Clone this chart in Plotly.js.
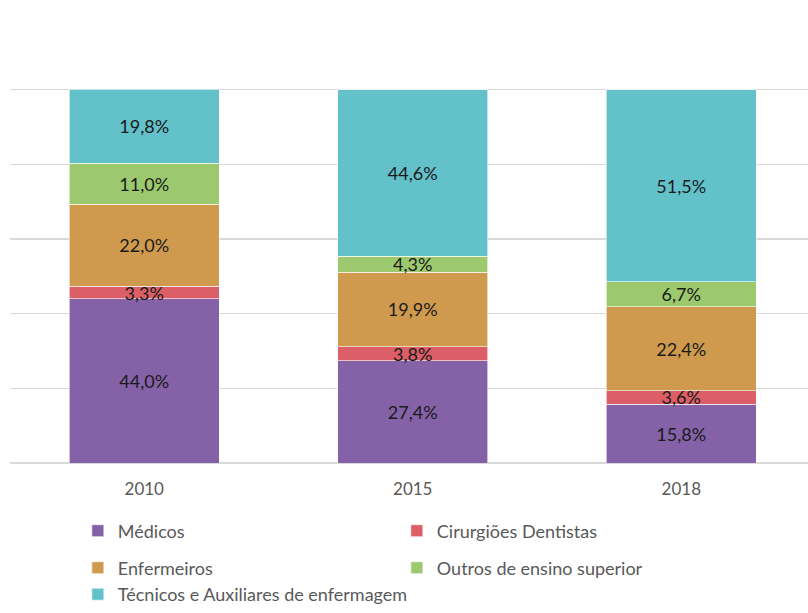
<!DOCTYPE html>
<html>
<head>
<meta charset="utf-8">
<script src="https://cdn.plot.ly/plotly-3.0.1.min.js"></script>
<style>body{margin:0;padding:0;background:#fff;}#chart{width:808px;height:613px;}</style>
</head>
<body>
<div id="chart"></div>
<script>
const years = ['2010', '2015', '2018'];
const medicos = [44.0, 27.4, 15.8];
const dentistas = [3.3, 3.8, 3.6];
const enfermeiros = [22.0, 19.9, 22.4];
const outros = [11.0, 4.3, 6.7];
const tecnicos = [19.8, 44.6, 51.5];
const seriesNames = ['Médicos', 'Cirurgiões Dentistas', 'Enfermeiros', 'Outros de ensino superior', 'Técnicos e Auxiliares de enfermagem'];
const seriesValues = [medicos, dentistas, enfermeiros, outros, tecnicos];
const seriesColors = ['#8562A8', '#DC5E66', '#D09A4E', '#9DC96E', '#63C1CA'];
const seriesLegends = ['legend', 'legend', 'legend2', 'legend2', 'legend3'];

const fmt = v => v.toFixed(1).replace('.', ',') + '%';

const traces = seriesValues.map((vals, i) => ({
  type: 'bar',
  name: seriesNames[i],
  x: years,
  y: vals,
  width: 0.56,
  legend: seriesLegends[i],
  marker: {color: seriesColors[i], line: {color: '#ffffff', width: 0.6}},
  text: vals.map(fmt),
  textposition: 'inside',
  insidetextanchor: 'middle',
  constraintext: 'none',
  textfont: {family: 'Lato, sans-serif', size: 18, color: '#1a1a1a'},
  hoverinfo: 'name+y'
}));

const legendBase = {
  orientation: 'h',
  xref: 'paper', yref: 'paper',
  xanchor: 'left', yanchor: 'middle',
  x: 0.085,
  entrywidth: 274, entrywidthmode: 'pixels',
  font: {family: 'Lato, sans-serif', size: 18, color: '#595959'},
  bgcolor: 'rgba(0,0,0,0)',
  traceorder: 'normal'
};

const layout = {
  width: 808, height: 613,
  margin: {l: 10, r: 0, t: 15, b: 149},
  paper_bgcolor: '#ffffff', plot_bgcolor: '#ffffff',
  barmode: 'stack',
  showlegend: true,
  xaxis: {
    type: 'category',
    range: [-0.5, 2.472],
    showgrid: false, zeroline: false, showline: false,
    ticks: '',
    ticklabelstandoff: 14,
    tickfont: {family: 'Lato, sans-serif', size: 17, color: '#595959'},
    fixedrange: true
  },
  yaxis: {
    range: [0, 120],
    dtick: 20,
    showticklabels: false,
    showgrid: true, gridcolor: '#d9d9d9', gridwidth: 1.3,
    zeroline: true, zerolinecolor: '#d9d9d9', zerolinewidth: 1.3,
    fixedrange: true
  },
  legend: Object.assign({}, legendBase, {y: -0.1492}),
  legend2: Object.assign({}, legendBase, {y: -0.2316}),
  legend3: Object.assign({}, legendBase, {y: -0.294, entrywidth: 0})
};

Plotly.newPlot('chart', traces, layout, {displayModeBar: false, staticPlot: true});
</script>
</body>
</html>
